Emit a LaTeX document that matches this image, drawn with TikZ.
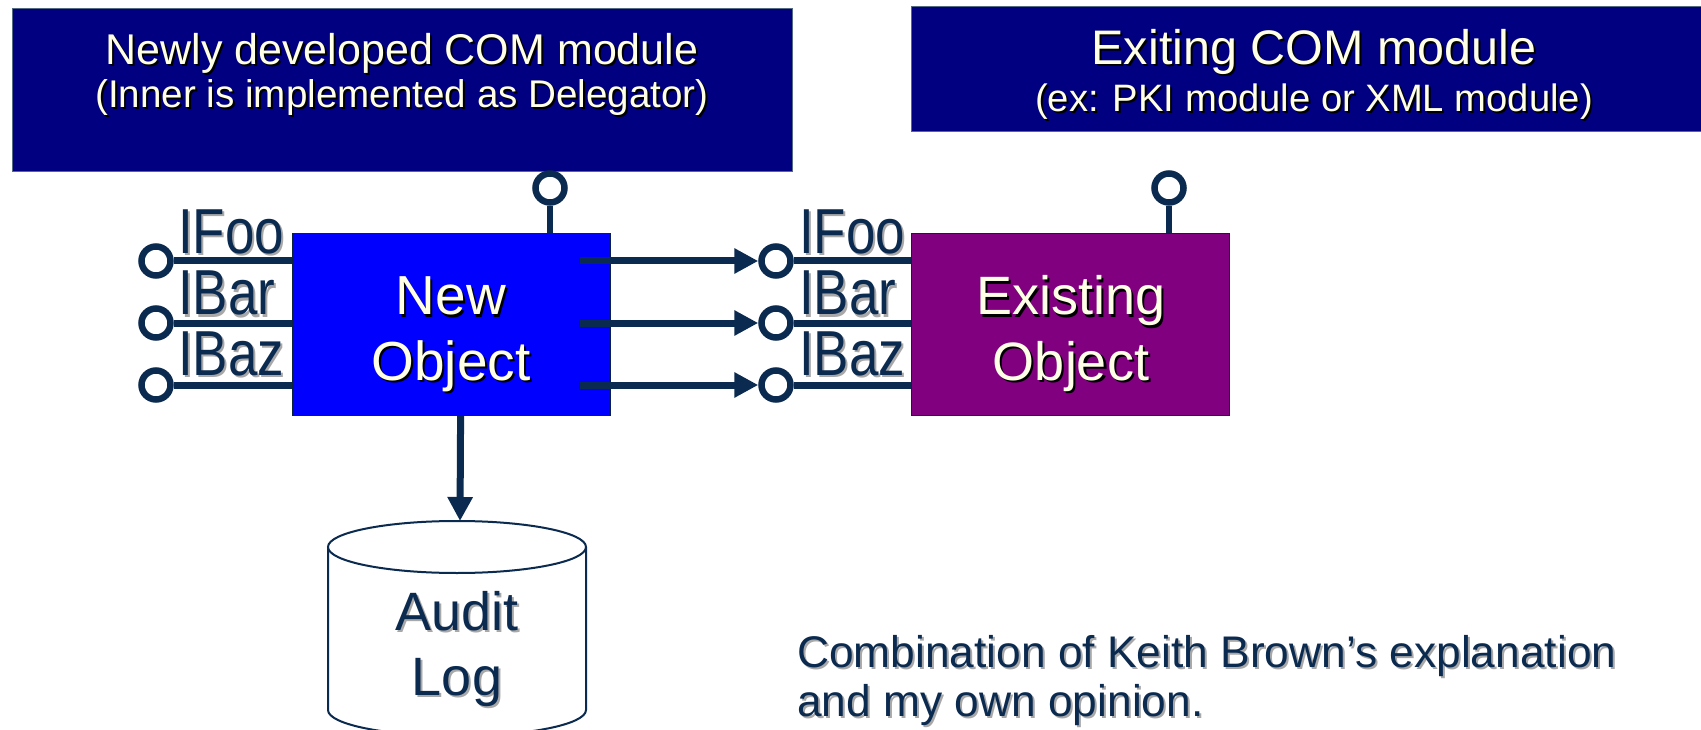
\documentclass[tikz,border=0pt]{standalone}
\usepackage{fontspec}
\usepackage{graphicx}
\setmainfont{Liberation Sans}
\usetikzlibrary{arrows.meta}
\definecolor{navyfill}{HTML}{000080}
\definecolor{linecol}{HTML}{0B2A4F}
\definecolor{cream}{HTML}{FFFFE6}
\definecolor{newblue}{HTML}{0000FF}
\definecolor{purp}{HTML}{800080}
\definecolor{shadowgray}{HTML}{A8A8A8}
\newcommand{\ShadowText}[7]{% name, position, anchor, font size, fg, shadow, text
  \node[anchor=#3, text=#6, inner sep=0pt, font=\fontsize{#4pt}{#4pt}\selectfont, xshift=2pt, yshift=-2pt] (#1s) at (#2) {#7};
  \node[anchor=#3, text=#5, inner sep=0pt, font=\fontsize{#4pt}{#4pt}\selectfont] (#1) at (#2) {#7};
}
\newcommand{\TallText}[1]{\scalebox{1}[1.2]{#1}}
\begin{document}
\begin{tikzpicture}[x=1pt,y=-1pt,
  modbox/.style={draw=linecol!70, line width=1.2pt, fill=navyfill, inner sep=0pt, anchor=north west},
  objbox/.style={draw=linecol!80!black, line width=1.2pt, inner sep=0pt, anchor=north west, minimum width=318pt, minimum height=182pt},
  lolly/.style={circle, draw=linecol, line width=6.5pt, fill=white, minimum size=29pt, inner sep=0pt},
  wire/.style={draw=linecol, line width=7pt},
  arr/.style={draw=linecol, line width=7pt, -{Triangle[length=24pt,width=24pt]}},
  cylline/.style={draw=linecol, line width=2pt},
]
\clip (0,0) rectangle (1701,730);
\fill[white] (0,0) rectangle (1701,730);

% module boxes
\node[modbox, minimum width=780pt, minimum height=163pt] (newmod) at (12,8) {};
\node[modbox, minimum width=810pt, minimum height=125pt] (exmod) at (911,6) {};
\ShadowText{nt1}{402,65}{base}{43}{cream}{black}{Newly developed COM module}
\ShadowText{nt2}{402,108}{base}{38.6}{cream}{black}{(Inner is implemented as Delegator)}
\ShadowText{et1}{1314,65}{base}{48.5}{cream}{black}{Exiting COM module}
\ShadowText{et2}{1314,112}{base}{38.2}{cream}{black}{(ex: PKI module or XML module)}

% objects
\node[objbox, fill=newblue] (newobj) at (292,233) {};
\node[objbox, fill=purp] (exobj) at (911,233) {};
\ShadowText{no1}{451,315}{base}{55}{cream}{black}{New}
\ShadowText{no2}{451,380}{base}{55}{cream}{black}{Object}
\ShadowText{eo1}{1071,315}{base}{54}{cream}{black}{Existing}
\ShadowText{eo2}{1071,380}{base}{54}{cream}{black}{Object}

% left lollipops of new object
\node[lolly] (lfoo) at (156,261) {};
\node[lolly] (lbar) at (156,323) {};
\node[lolly] (lbaz) at (156,385) {};
\draw[wire] (lfoo) -- (newobj.west |- lfoo);
\draw[wire] (lbar) -- (newobj.west |- lbar);
\draw[wire] (lbaz) -- (newobj.west |- lbaz);
\ShadowText{lf}{178,254}{base west}{53}{linecol}{shadowgray}{\TallText{IFoo}}
\ShadowText{lb}{178,315}{base west}{53}{linecol}{shadowgray}{\TallText{IBar}}
\ShadowText{lz}{178,375}{base west}{53}{linecol}{shadowgray}{\TallText{IBaz}}

% top lollipops
\node[lolly] (ntop) at (550,188) {};
\draw[wire, line width=6pt] (ntop) -- (ntop |- newobj.north);
\node[lolly] (etop) at (1169,188) {};
\draw[wire, line width=6pt] (etop) -- (etop |- exobj.north);

% right lollipops of existing object
\node[lolly] (rfoo) at (776,261) {};
\node[lolly] (rbar) at (776,323) {};
\node[lolly] (rbaz) at (776,385) {};
\draw[wire] (rfoo) -- (exobj.west |- rfoo);
\draw[wire] (rbar) -- (exobj.west |- rbar);
\draw[wire] (rbaz) -- (exobj.west |- rbaz);
\ShadowText{rf}{799,254}{base west}{53}{linecol}{shadowgray}{\TallText{IFoo}}
\ShadowText{rb}{799,315}{base west}{53}{linecol}{shadowgray}{\TallText{IBar}}
\ShadowText{rz}{799,375}{base west}{53}{linecol}{shadowgray}{\TallText{IBaz}}

% delegation arrows
\coordinate (o1) at (580,261);
\coordinate (o2) at (580,323);
\coordinate (o3) at (580,385);
\draw[arr] (o1) -- (rfoo.west);
\draw[arr] (o2) -- (rbar.west);
\draw[arr] (o3) -- (rbaz.west);

% audit log cylinder
\coordinate (cyltop) at (460,521);
\draw[cylline, fill=white] (328,547) -- (328,710) arc[start angle=180, end angle=360, x radius=129pt, y radius=26pt] -- (586,547);
\draw[cylline, fill=white] (457,547) ellipse [x radius=129pt, y radius=26pt];
\draw[arr] ([xshift=9pt]newobj.south) -- (cyltop);
\ShadowText{al1}{457,630}{base}{54}{linecol}{shadowgray}{Audit}
\ShadowText{al2}{457,695}{base}{54}{linecol}{shadowgray}{Log}

% note
\ShadowText{c1}{797,667}{base west}{44.3}{linecol}{shadowgray}{Combination of Keith Brown’s explanation}
\ShadowText{c2}{797,716}{base west}{44.3}{linecol}{shadowgray}{and my own opinion.}
\end{tikzpicture}
\end{document}
